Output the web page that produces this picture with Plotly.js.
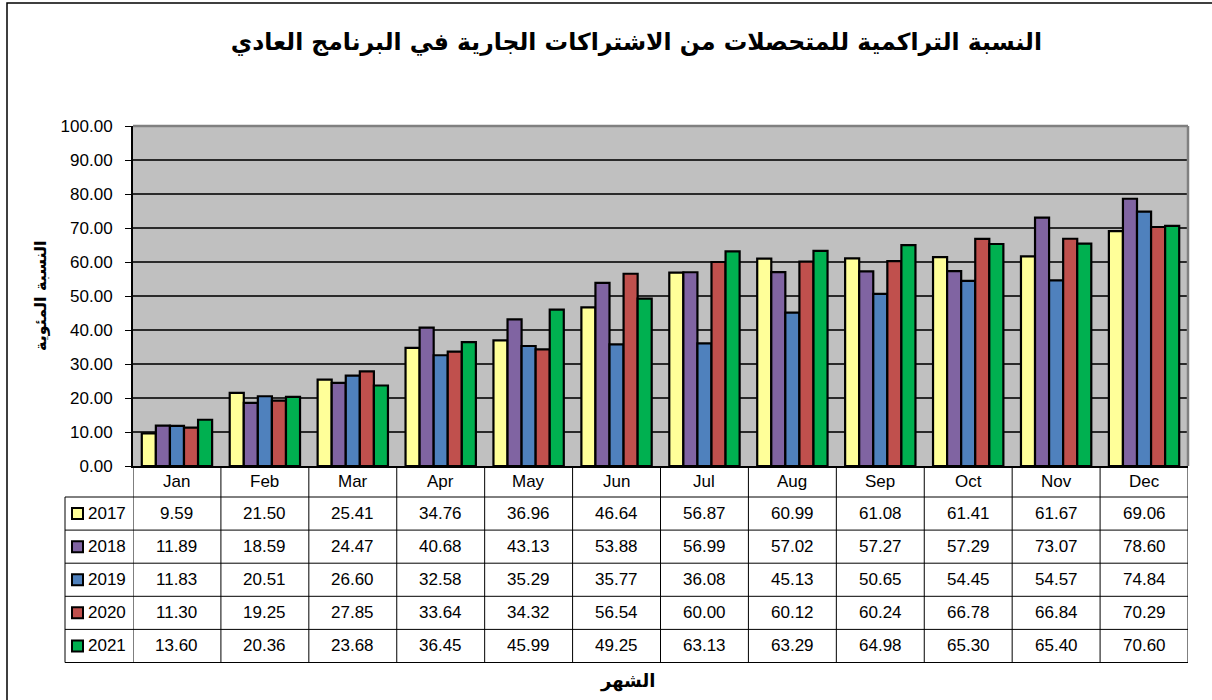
<!DOCTYPE html>
<html>
<head>
<meta charset="utf-8">
<script src="https://cdn.plot.ly/plotly-3.0.1.min.js"></script>
<style>html,body{margin:0;padding:0;background:#fff;}#chart{width:1212px;height:700px;}</style>
</head>
<body>
<div id="chart"></div>
<script>
const months = ["Jan","Feb","Mar","Apr","May","Jun","Jul","Aug","Sep","Oct","Nov","Dec"];
const seriesNames = ["2017","2018","2019","2020","2021"];
const v2017 = [9.59,21.50,25.41,34.76,36.96,46.64,56.87,60.99,61.08,61.41,61.67,69.06];
const v2018 = [11.89,18.59,24.47,40.68,43.13,53.88,56.99,57.02,57.27,57.29,73.07,78.60];
const v2019 = [11.83,20.51,26.60,32.58,35.29,35.77,36.08,45.13,50.65,54.45,54.57,74.84];
const v2020 = [11.30,19.25,27.85,33.64,34.32,56.54,60.00,60.12,60.24,66.78,66.84,70.29];
const v2021 = [13.60,20.36,23.68,36.45,45.99,49.25,63.13,63.29,64.98,65.30,65.40,70.60];
const seriesValues = [v2017,v2018,v2019,v2020,v2021];
const colors = ["#FFFF99","#8064A2","#4F81BD","#C0504D","#00B050"];
const chartTitle = "النسبة التراكمية للمتحصلات من الاشتراكات الجارية في البرنامج العادي";
const yTitle = "النسبة المئوية";
const xTitle = "الشهر";

// layout geometry (pixels)
const L = 133, R = 24, T = 126, B = 234;
const W = 1212 - L - R, H = 700 - T - B;
const px2x = p => (p - L) / W;
const py2y = p => (700 - B - p) / H;
const headerTop = 466, headerBot = 497, rowH = 33.1;
const numFont = "Liberation Sans, Arial, sans-serif";
const arFont = "DejaVu Sans, sans-serif";

const traces = seriesNames.map((n, i) => ({
  type: "bar", name: n, x: months, y: seriesValues[i],
  marker: {color: colors[i], line: {color: "#000", width: 2.2}},
  hoverinfo: "x+y+name"
}));

const shapes = [];
const annotations = [];
// outer frame
shapes.push({type:"rect", xref:"paper", yref:"paper", x0:px2x(7), x1:px2x(1230), y0:py2y(3), y1:py2y(720), line:{color:"#000", width:1.5}, layer:"below"});
// plot border top & right grey
shapes.push({type:"line", xref:"paper", yref:"paper", x0:0, x1:1, y0:1, y1:1, line:{color:"#808080", width:2.5}});
shapes.push({type:"line", xref:"paper", yref:"paper", x0:1, x1:1, y0:0, y1:1, line:{color:"#808080", width:2.5}});
// table horizontal lines
for (let r = 0; r <= 5; r++) {
  const y = headerBot + r * rowH;
  shapes.push({type:"line", xref:"paper", yref:"paper", x0:px2x(65), x1:1, y0:py2y(y), y1:py2y(y), line:{color:"#000", width:1}});
}
// left edge of legend column
shapes.push({type:"line", xref:"paper", yref:"paper", x0:px2x(65), x1:px2x(65), y0:py2y(headerBot), y1:py2y(headerBot+5*rowH), line:{color:"#000", width:1}});
// vertical lines at category boundaries
for (let j = 0; j <= months.length; j++) {
  shapes.push({type:"line", xref:"x", yref:"paper", x0:j-0.5, x1:j-0.5, y0:py2y(headerTop), y1:py2y(headerBot+5*rowH), line:{color:"#000", width:1}});
}
// header month labels
months.forEach((m, j) => {
  annotations.push({xref:"x", yref:"paper", x:j, y:py2y((headerTop+headerBot)/2), text:m, showarrow:false, font:{family:numFont, size:17, color:"#000"}, xanchor:"center", yanchor:"middle"});
});
// rows
seriesNames.forEach((n, i) => {
  const yc = headerBot + rowH * (i + 0.5);
  // legend key
  shapes.push({type:"rect", xref:"paper", yref:"paper", x0:px2x(72), x1:px2x(83), y0:py2y(yc-5.5), y1:py2y(yc+5.5), fillcolor:colors[i], line:{color:"#000", width:2}});
  annotations.push({xref:"paper", yref:"paper", x:px2x(86), y:py2y(yc), text:n, showarrow:false, font:{family:numFont, size:17, color:"#000"}, xanchor:"left", yanchor:"middle"});
  seriesValues[i].forEach((v, j) => {
    annotations.push({xref:"x", yref:"paper", x:j, y:py2y(yc), text:v.toFixed(2), showarrow:false, font:{family:numFont, size:17, color:"#000"}, xanchor:"center", yanchor:"middle"});
  });
});
// axis titles
annotations.push({xref:"paper", yref:"paper", x:px2x(40), y:py2y(296), text:"<b>"+yTitle+"</b>", textangle:-90, showarrow:false, font:{family:arFont, size:16, color:"#000"}, xanchor:"center", yanchor:"middle"});
annotations.push({xref:"paper", yref:"paper", x:px2x(627), y:py2y(681), text:"<b>"+xTitle+"</b>", showarrow:false, font:{family:arFont, size:18, color:"#000"}, xanchor:"center", yanchor:"middle"});

const layout = {
  width: 1212, height: 700,
  margin: {l:L, r:R, t:T, b:B},
  paper_bgcolor: "#fff", plot_bgcolor: "#C0C0C0",
  showlegend: false,
  barmode: "group", bargap: 0.2, bargroupgap: 0,
  title: {text: "<b>"+chartTitle+"</b>", font:{family:arFont, size:23.5, color:"#000"}, x:0.525, xanchor:"center", y:1-42/700, yanchor:"middle", xref:"container", yref:"container"},
  xaxis: {type:"category", showticklabels:false, ticks:"", showgrid:false, showline:true, linecolor:"#000", linewidth:1.5, zeroline:false, range:[-0.5, 11.5], fixedrange:true},
  yaxis: {range:[0,100], dtick:10, tick0:0, tickformat:".2f", showgrid:true, gridcolor:"#2a2a2a", gridwidth:1.2, showline:true, linecolor:"#000", linewidth:2, ticks:"outside", ticklen:6, tickcolor:"#000", ticklabelstandoff:9, tickfont:{family:numFont, size:17, color:"#000"}, zeroline:false, fixedrange:true},
  shapes: shapes,
  annotations: annotations
};
Plotly.newPlot("chart", traces, layout, {displayModeBar:false, staticPlot:true});
</script>
</body>
</html>
